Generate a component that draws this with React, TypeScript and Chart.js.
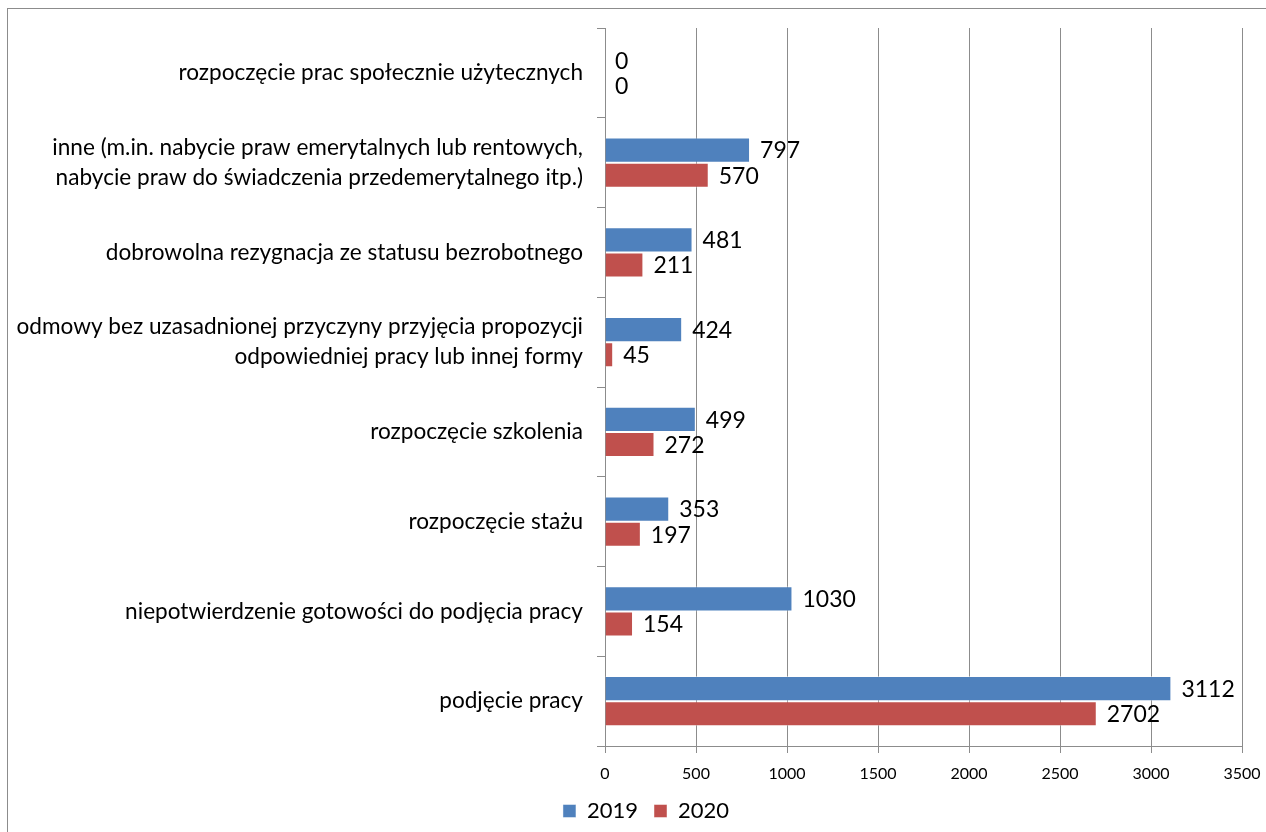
import React, { useEffect, useRef } from "react";
import { Chart, registerables } from "chart.js";

Chart.register(...registerables);

const categories: (string | string[])[] = [
  "rozpoczęcie prac społecznie użytecznych",
  ["inne (m.in. nabycie praw emerytalnych lub rentowych,", "nabycie praw do świadczenia przedemerytalnego itp.)"],
  "dobrowolna rezygnacja ze statusu bezrobotnego",
  ["odmowy bez uzasadnionej przyczyny przyjęcia propozycji", "odpowiedniej pracy lub innej formy"],
  "rozpoczęcie szkolenia",
  "rozpoczęcie stażu",
  "niepotwierdzenie gotowości do podjęcia pracy",
  "podjęcie pracy",
];
const series2019 = [0, 797, 481, 424, 499, 353, 1030, 3112];
const series2020 = [0, 570, 211, 45, 272, 197, 154, 2702];
const seriesLabels = ["2019", "2020"];
const FONT = "Lato, 'Open Sans', sans-serif";

const valueLabels = {
  id: "valueLabels",
  afterDatasetsDraw(chart: any) {
    const ctx = chart.ctx;
    ctx.save();
    ctx.font = `23px ${FONT}`;
    ctx.fillStyle = "#000";
    ctx.textAlign = "left";
    ctx.textBaseline = "middle";
    chart.data.datasets.forEach((ds: any, i: number) => {
      const meta = chart.getDatasetMeta(i);
      meta.data.forEach((el: any, j: number) => {
        ctx.fillText(String(ds.data[j]), el.x + 10, el.y + 1);
      });
    });
    ctx.restore();
  },
};

const legendShift = {
  id: "legendShift",
  afterLayout(chart: any) {
    const lg = chart.legend;
    if (lg) {
      lg.left += 21;
      lg.right += 21;
      if (lg.adjustHitBoxes) lg.adjustHitBoxes();
    }
  },
};

export default function App() {
  const ref = useRef<HTMLCanvasElement>(null);
  useEffect(() => {
    if (!ref.current) return;
    const chart = new Chart(ref.current, {
      type: "bar",
      data: {
        labels: categories,
        datasets: [
          {
            label: seriesLabels[0],
            data: series2019,
            backgroundColor: "#4F81BD",
            borderColor: "rgba(255,255,255,0.45)",
            borderWidth: 1,
            categoryPercentage: 0.56,
            barPercentage: 1,
          },
          {
            label: seriesLabels[1],
            data: series2020,
            backgroundColor: "#C0504D",
            borderColor: "rgba(255,255,255,0.45)",
            borderWidth: 1,
            categoryPercentage: 0.56,
            barPercentage: 1,
          },
        ],
      },
      options: {
        indexAxis: "y",
        animation: false,
        responsive: false,
        layout: { padding: { top: 19, right: 24, left: 0, bottom: 0 } },
        plugins: {
          legend: {
            position: "bottom",
            labels: {
              boxWidth: 13,
              boxHeight: 13,
              color: "#000",
              font: { family: FONT, size: 22 },
              padding: 16,
            },
          },
          tooltip: { enabled: false },
        },
        scales: {
          x: {
            min: 0,
            max: 3500,
            ticks: {
              stepSize: 500,
              color: "#000",
              font: { family: FONT, size: 16 },
              padding: 11,
              callback: (v: any) => String(v),
            },
            grid: { color: "#8c8c8c", tickLength: 7, lineWidth: 1 },
            border: { color: "#8c8c8c" },
            afterFit: (s: any) => {
              s.height = 38;
              s.paddingLeft = 0;
              s.paddingRight = 0;
            },
          },
          y: {
            ticks: {
              color: "#000",
              font: { family: FONT, size: 22.6, lineHeight: 1.33 },
              padding: 14,
            },
            grid: { drawOnChartArea: false, color: "#8c8c8c", tickLength: 8, offset: true },
            border: { color: "#8c8c8c" },
            afterFit: (s: any) => {
              s.width = 597;
              s.paddingTop = 0;
              s.paddingBottom = 0;
            },
          },
        },
      },
      plugins: [valueLabels, legendShift],
    });
    return () => chart.destroy();
  }, []);
  return (
    <div
      style={{
        position: "fixed",
        left: 7,
        top: 8,
        width: 1258,
        height: 823,
        borderLeft: "1px solid #8c8c8c",
        borderTop: "1px solid #8c8c8c",
        background: "#fff",
      }}
    >
      <canvas ref={ref} width={1258} height={823} style={{ display: "block" }} />
    </div>
  );
}
